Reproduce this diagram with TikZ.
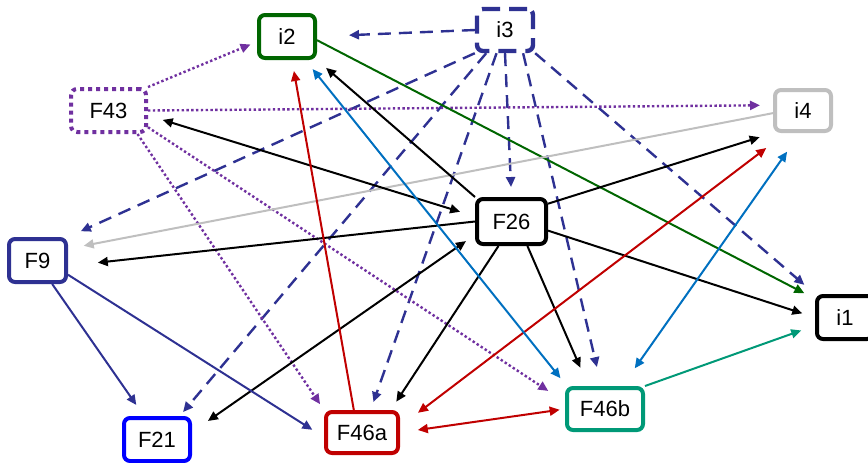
\documentclass[tikz,border=0pt]{standalone}
\usepackage{fontspec}
\setmainfont{Liberation Sans}
\usetikzlibrary{arrows.meta}
\definecolor{navy}{RGB}{46,49,146}
\definecolor{plum}{RGB}{112,48,160}
\definecolor{leaf}{RGB}{0,102,0}
\definecolor{ash}{RGB}{191,191,191}
\definecolor{crimson}{RGB}{192,0,0}
\definecolor{ocean}{RGB}{0,112,192}
\definecolor{teal}{RGB}{0,153,119}
\tikzset{
	Box/.style      = {draw, fill=white, rounded corners=3pt, line width=2pt,
	                   minimum height=21.5pt, inner sep=0pt,
	                   font=\fontsize{11}{13}\selectfont},
	Edge/.style     = {line width=1pt, >={Triangle[length=5pt,width=4.5pt]}},
	DashEdge/.style = {Edge, draw=navy, line width=1.2pt, dash pattern=on 6.5pt off 4pt},
	DotEdge/.style  = {Edge, draw=plum, line width=1.2pt, dash pattern=on 1.2pt off 1.2pt},
	BlackEdge/.style = {Edge, draw=black},
	RedEdge/.style  = {Edge, draw=crimson},
	BlueEdge/.style = {Edge, draw=ocean},
	NavyEdge/.style = {Edge, draw=navy}
}

\begin{document}
\begin{tikzpicture}[x=0.5pt, y=-0.5pt]
	\useasboundingbox (0,0) rectangle (868,462);
	\node[Box, draw=leaf, minimum width=28pt] (i2) at (287,36.5) {i2};
	\node[Box, draw=navy, line width=2.2pt, dash pattern=on 9pt off 4.5pt,
	      minimum width=28pt, minimum height=21pt] (i3) at (505,30) {i3};
	\node[Box, draw=plum, dash pattern=on 2pt off 2pt, minimum width=37.5pt] (F43) at (108.5,110.5) {F43};
	\node[Box, draw=ash, minimum width=28pt, minimum height=20.5pt] (i4) at (803,110.5) {i4};
	\node[Box, minimum width=34.5pt, minimum height=22.5pt] (F26) at (511.5,221.5) {F26};
	\node[Box, draw=navy, minimum width=28.5pt] (F9) at (37.5,260.5) {F9};
	\node[Box, draw=blue, minimum width=33pt] (F21) at (157,439.5) {F21};
	\node[Box, draw=crimson, minimum width=36pt, minimum height=20.5pt] (F46a) at (362,432.5) {F46a};
	\node[Box, draw=teal, minimum width=38pt, minimum height=21pt] (F46b) at (605,409) {F46b};
	\node[Box, minimum width=28pt] (i1) at (845,317.5) {i1};

	\draw[DashEdge, ->, shorten >=16pt] (i3.west) -- (i2.east);
	\draw[DashEdge, ->, shorten >=7pt] (i3.south west) -- (F9.north east);
	\draw[DashEdge, ->, shorten >=2.6pt] (i3.231) -- (F21.46);
	\draw[DashEdge, ->, shorten >=4.2pt] (i3.250) -- (F46a.69);
	\draw[DashEdge, ->, shorten >=5pt] (i3.south) -- (F26.north);
	\draw[DashEdge, ->, shorten >=9.7pt] (i3.308) -- (F46b.99);
	\draw[DashEdge, ->, shorten >=7pt] (i3.south east) -- (i1.north west);

	\draw[DotEdge, ->, shorten >=3.5pt] (F43.north east) -- (i2.190);
	\draw[DotEdge, ->, shorten >=6.5pt] (F43.east) -- (i4.170);
	\draw[DotEdge, ->, shorten >=3.5pt] (F43.321) -- (F46a.north west);
	\draw[DotEdge, ->, shorten >=10pt] (F43.337) -- (F46b.170);

	\draw[Edge, draw=leaf, ->, shorten >=6pt] (i2.353) -- (i1.148);
	\draw[Edge, draw=ash, ->, shorten >=8pt] (i4.185) -- (F9.21);

	\draw[BlackEdge, ->, shorten >=6pt] (F26.north west) -- (i2.south east);
	\draw[BlackEdge, <->, shorten <=7.8pt, shorten >=7.7pt] (F26.172) -- (F43.353);
	\draw[BlackEdge, ->, shorten >=15pt] (F26.west) -- (F9.350);
	\draw[BlackEdge, ->, shorten >=7pt] (F26.26) -- (i4.south west);
	\draw[BlackEdge, ->, shorten >=6.7pt] (F26.346) -- (i1.west);
	\draw[BlackEdge, ->, shorten >=10pt] (F26.303) -- (F46b.126);
	\draw[BlackEdge, ->, shorten >=5pt] (F26.242) -- (F46a.38);
	\draw[BlackEdge, <->, shorten <=5.5pt, shorten >=9.7pt] (F26.200) -- (F21.12);

	\draw[RedEdge, ->, shorten >=5.6pt] (F46a.110) -- (i2.282);
	\draw[RedEdge, <->, shorten <=11.3pt, shorten >=12.4pt] (F46a.9) -- (i4.233);
	\draw[RedEdge, <->, shorten <=9pt, shorten >=2.7pt] (F46a.east) -- (F46b.west);

	\draw[BlueEdge, <->, shorten <=5.8pt, shorten >=5pt] (i2.308) -- (F46b.149);
	\draw[BlueEdge, <->, shorten <=11.4pt, shorten >=10.8pt] (i4.263) -- (F46b.53);

	\draw[Edge, draw=teal, ->, shorten >=7.3pt] (F46b.north east) -- (i1.195);

	\draw[NavyEdge, ->, shorten >=6.7pt] (F9.302) -- (F21.119);
	\draw[NavyEdge, ->, shorten >=6.9pt] (F9.335) -- (F46a.187);
\end{tikzpicture}
\end{document}
